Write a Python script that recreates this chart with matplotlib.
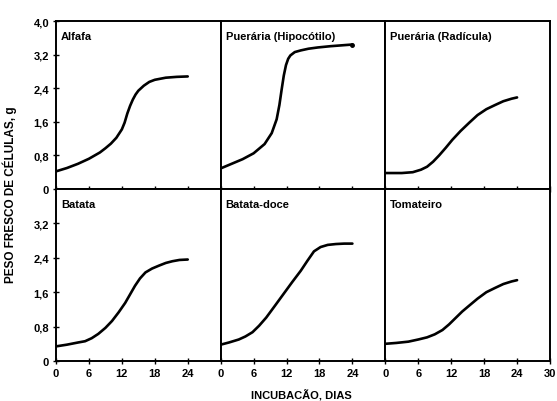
import matplotlib
matplotlib.use("Agg")
import matplotlib.pyplot as plt

plt.rcParams['font.family'] = ['Liberation Sans', 'DejaVu Sans']
plt.rcParams['font.weight'] = 'bold'

titles = ["Alfafa", "Puerária (Hipocótilo)", "Puerária (Radícula)",
          "Batata", "Batata-doce", "Tomateiro"]

alfafa_x = [0, 2, 4, 6, 8, 9, 10, 11, 12, 12.5, 13, 13.5, 14, 14.5, 15, 16, 17, 18, 20, 22, 24]
alfafa_y = [0.42, 0.5, 0.6, 0.72, 0.87, 0.97, 1.08, 1.22, 1.42, 1.58, 1.8, 1.98, 2.13, 2.25, 2.34, 2.46, 2.55, 2.6, 2.65, 2.67, 2.68]

hipo_x = [0, 2, 4, 6, 8, 9.3, 10.2, 10.7, 11.1, 11.5, 11.9, 12.3, 12.7, 13.5, 14.6, 16, 17.7, 20, 22, 24]
hipo_y = [0.49, 0.6, 0.71, 0.85, 1.07, 1.33, 1.66, 2.0, 2.36, 2.7, 2.95, 3.1, 3.18, 3.26, 3.30, 3.34, 3.37, 3.4, 3.42, 3.44]

radi_x = [0, 3, 5, 6.5, 7.6, 8.7, 9.8, 11, 12.2, 13.7, 15.3, 16.8, 18.4, 20, 21.5, 23, 24]
radi_y = [0.38, 0.38, 0.40, 0.46, 0.53, 0.65, 0.8, 0.98, 1.17, 1.38, 1.58, 1.76, 1.9, 2.0, 2.09, 2.15, 2.18]

batata_x = [0, 2, 4, 5.3, 6.5, 7.7, 9, 10.2, 11.4, 12.6, 13.5, 14.4, 15.3, 16.3, 17.5, 18.8, 20, 21.2, 22.5, 24]
batata_y = [0.34, 0.38, 0.43, 0.46, 0.53, 0.63, 0.77, 0.93, 1.13, 1.35, 1.55, 1.75, 1.92, 2.06, 2.15, 2.22, 2.28, 2.32, 2.35, 2.36]

doce_x = [0, 1.5, 3.3, 4.5, 5.8, 7, 8.3, 9.8, 11.4, 13, 14.6, 15.8, 17, 18.2, 19.5, 21, 22.5, 24]
doce_y = [0.38, 0.43, 0.5, 0.57, 0.67, 0.82, 1.01, 1.27, 1.55, 1.83, 2.1, 2.33, 2.55, 2.65, 2.7, 2.72, 2.73, 2.73]

tomate_x = [0, 2, 4.2, 6, 7.6, 9, 10.4, 11.6, 12.8, 14, 15.3, 16.8, 18.4, 20, 21.5, 23, 24]
tomate_y = [0.40, 0.42, 0.45, 0.5, 0.55, 0.62, 0.72, 0.85, 1.0, 1.15, 1.29, 1.45, 1.6, 1.7, 1.79, 1.85, 1.88]

series = [(alfafa_x, alfafa_y), (hipo_x, hipo_y), (radi_x, radi_y),
          (batata_x, batata_y), (doce_x, doce_y), (tomate_x, tomate_y)]

yticks = [0, 0.8, 1.6, 2.4, 3.2, 4.0]
ytick_labels = ["0", "0,8", "1,6", "2,4", "3,2", "4,0"]
xticks = [0, 6, 12, 18, 24, 30]
xtick_labels = ["0", "6", "12", "18", "24", "30"]

W, H = 557, 402
fig = plt.figure(figsize=(W / 100, H / 100), dpi=100)

left_px, right_px = 56, 550
top_px, mid_px, bot_px = 22, 190, 362
pw = (right_px - left_px) / 3

axes = []
for r in range(2):
    for c in range(3):
        x0 = (left_px + c * pw) / W
        if r == 0:
            y0 = 1 - mid_px / H
            h = (mid_px - top_px) / H
        else:
            y0 = 1 - bot_px / H
            h = (bot_px - mid_px) / H
        ax = fig.add_axes([x0, y0, pw / W, h])
        axes.append(ax)

for i, ax in enumerate(axes):
    r, c = divmod(i, 3)
    xs, ys = series[i]
    ax.plot(xs, ys, color='black', lw=1.9, solid_capstyle='round',
            solid_joinstyle='round')
    if i == 1:
        ax.plot([xs[-1]], [ys[-1]], 'o', color='black', ms=2.5)
    ax.set_xlim(0, 30)
    ax.set_ylim(0, 4.0)
    for s in ax.spines.values():
        s.set_linewidth(1.4)
    ax.text(0.03, 0.91, titles[i], transform=ax.transAxes, fontsize=8,
            fontweight='bold', va='center', ha='left')
    ax.set_xticks(xticks[:5] if c < 2 else xticks)
    ax.set_yticks(yticks)
    ax.tick_params(direction='inout', length=4, width=1.0, labelsize=8, pad=3)
    if c == 0:
        if r == 0:
            ax.set_yticklabels(ytick_labels)
        else:
            ax.set_yticks(yticks[:5])
            ax.set_yticklabels(ytick_labels[:5])
    else:
        ax.tick_params(axis='y', left=False, labelleft=False)
    if r == 1:
        ax.set_xticklabels(xtick_labels[:5] if c < 2 else xtick_labels)
    else:
        ax.tick_params(axis='x', labelbottom=False)
    for lab in ax.get_xticklabels() + ax.get_yticklabels():
        lab.set_fontweight('bold')

fig.text(10 / W, 1 - 195 / H, "PESO FRESCO DE CÉLULAS, g", rotation=90,
         fontsize=8.5, fontweight='bold', ha='center', va='center')
fig.text(301 / W, 1 - 396 / H, "INCUBACÃO, DIAS", fontsize=8,
         fontweight='bold', ha='center', va='center')

fig.savefig("out.png", dpi=100)
